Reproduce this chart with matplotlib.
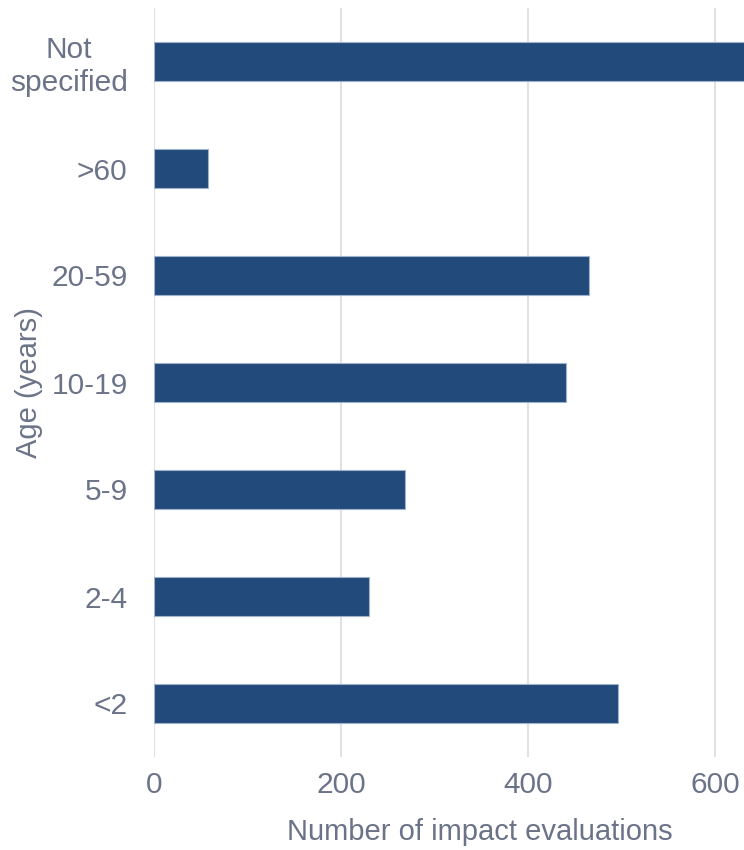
import matplotlib
matplotlib.use('Agg')
import matplotlib.pyplot as plt

# age groups, bottom to top
categories = ['<2', '2-4', '5-9', '10-19', '20-59', '>60', 'Not\nspecified']
counts = [496, 230, 268, 440, 465, 58, 660]
x_ticks = [0, 200, 400, 600]

bar_color = '#224a7b'
text_color = '#6b7388'
grid_color = '#e1e1e6'

plt.rcParams['font.family'] = ['Liberation Sans', 'DejaVu Sans']

fig = plt.figure(figsize=(7.44, 8.5), dpi=100)
# the original is cropped on the right, so the axes run past the figure edge
ax = fig.add_axes([154 / 744, 93 / 850, 652 / 744, 749 / 850])

ypos = range(len(categories))
ax.barh(ypos, counts, height=0.36, color=bar_color,
        edgecolor='#9fb2cc', linewidth=0.8, zorder=2)

ax.set_xlim(0, 697)
ax.set_ylim(-0.5, len(categories) - 0.5)
ax.set_xticks(x_ticks)
ax.set_xticklabels([str(t) for t in x_ticks])
ax.set_yticks(list(ypos))
ax.set_yticklabels(categories, multialignment='center')

ax.grid(axis='x', color=grid_color, linewidth=1.5, zorder=0)
ax.grid(axis='y', visible=False)
for s in ax.spines.values():
    s.set_visible(False)

ax.tick_params(axis='both', length=0, labelsize=21.5, labelcolor=text_color)
ax.tick_params(axis='y', pad=19)
ax.tick_params(axis='x', pad=10)

ax.set_xlabel('Number of impact evaluations', fontsize=21, color=text_color, labelpad=14)
ax.set_ylabel('Age (years)', fontsize=21, color=text_color)
ax.yaxis.set_label_coords(-0.170, 0.5)

fig.savefig('out.png', dpi=100)
